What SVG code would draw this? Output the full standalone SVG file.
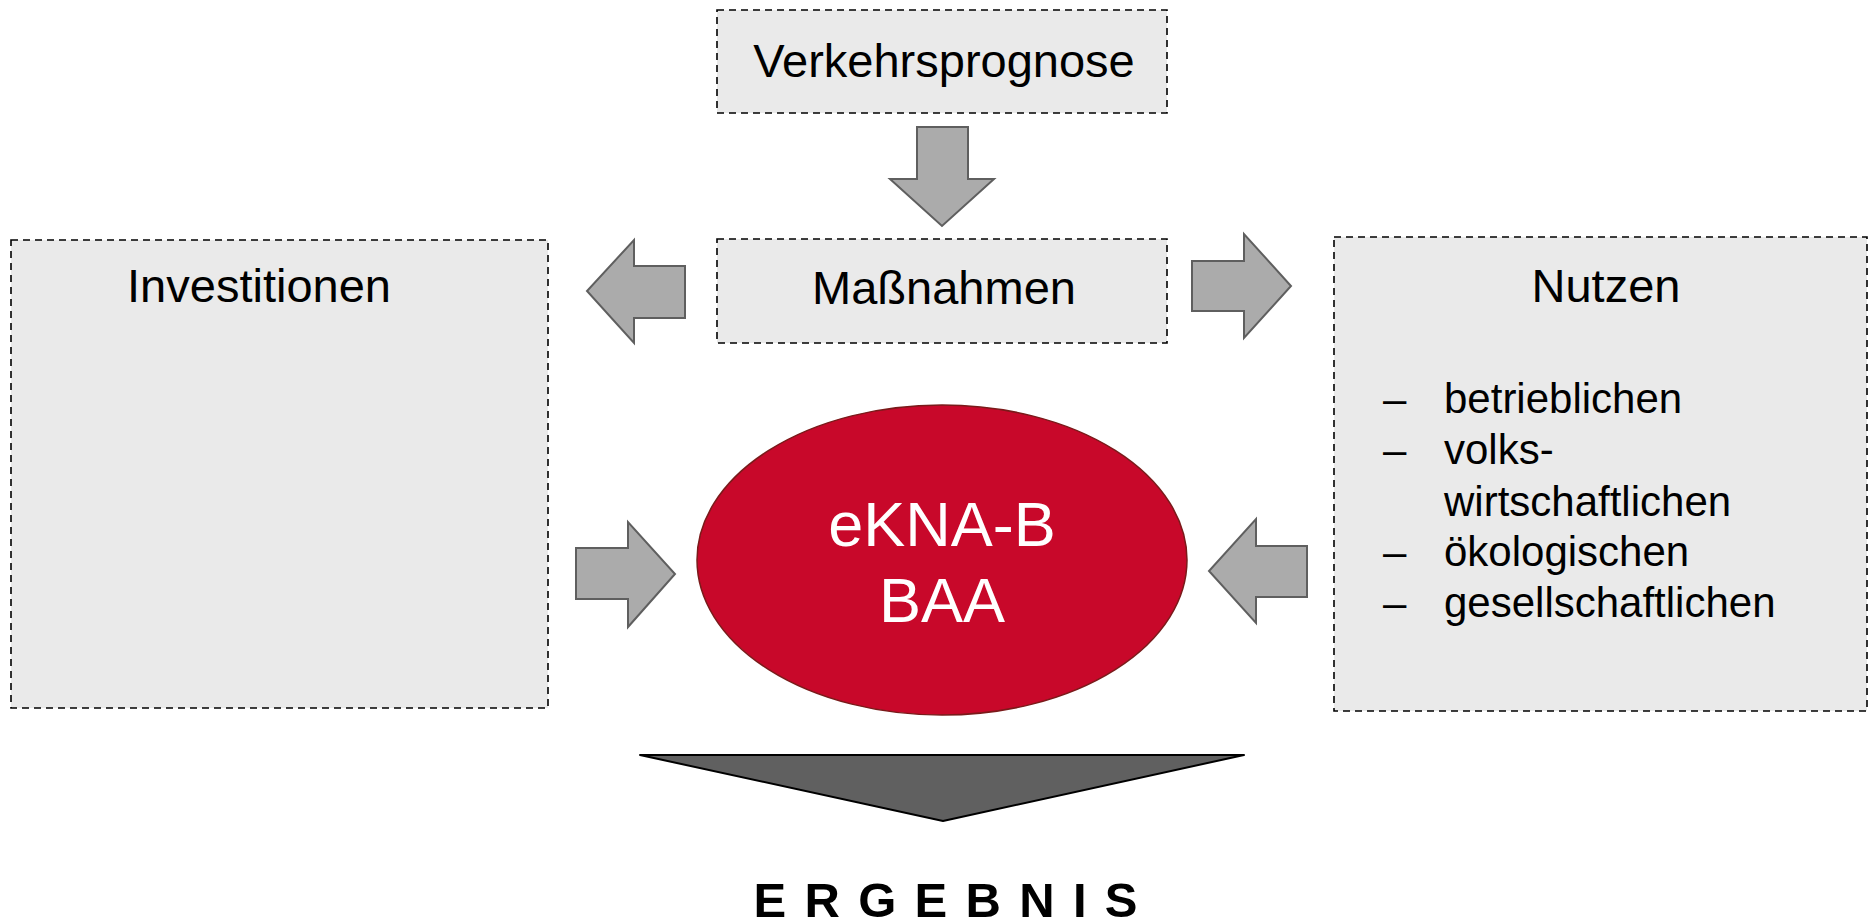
<svg xmlns="http://www.w3.org/2000/svg" width="1873" height="923" viewBox="0 0 1873 923">
<style>
.box{fill:#EAEAEA;stroke:#000;stroke-width:1.6;stroke-dasharray:7,5}
.arr{fill:#ABABAB;stroke:#5F5F5F;stroke-width:2;stroke-linejoin:miter}
.t{font-family:"Liberation Sans",Arial,sans-serif;fill:#000}
.h{font-size:47px}
.b{font-size:42px}
</style>
<rect width="1873" height="923" fill="#fff"/>
<g id="verkehrsprognose">
<rect class="box" x="717" y="10" width="450" height="103"/>
<text class="t h" x="944" y="77" text-anchor="middle">Verkehrsprognose</text>
</g>
<g id="massnahmen">
<rect class="box" x="717" y="239" width="450" height="104"/>
<text class="t h" x="944" y="304" text-anchor="middle">Maßnahmen</text>
</g>
<g id="investitionen">
<rect class="box" x="11" y="240" width="537" height="468"/>
<text class="t h" x="259" y="302" text-anchor="middle">Investitionen</text>
</g>
<g id="nutzen">
<rect class="box" x="1334" y="237" width="533" height="474"/>
<text class="t h" x="1606" y="302" text-anchor="middle">Nutzen</text>
<g class="t b">
<text x="1383" y="413">–</text><text x="1444" y="413">betrieblichen</text>
<text x="1383" y="464">–</text><text x="1444" y="464">volks-</text>
<text x="1444" y="516">wirtschaftlichen</text>
<text x="1383" y="566">–</text><text x="1444" y="566">ökologischen</text>
<text x="1383" y="617">–</text><text x="1444" y="617">gesellschaftlichen</text>
</g>
</g>
<g id="ekna">
<ellipse cx="942" cy="560" rx="245" ry="155" fill="#C8082A" stroke="#7A1A1A" stroke-width="1.5"/>
<text class="t" x="942" y="546" font-size="63" style="fill:#fff" text-anchor="middle">eKNA-B</text>
<text class="t" x="942" y="622" font-size="63" style="fill:#fff" text-anchor="middle">BAA</text>
</g>
<g id="ergebnis">
<text class="t" x="753.5" y="917" font-size="49" font-weight="bold" letter-spacing="18.3">ERGEBNIS</text>
</g>
<g id="connectors">
<polygon class="arr" points="917,127 968,127 968,179 994,179 942,226 890,179 917,179"/>
<polygon class="arr" points="685,266 634,266 634,240 587,291 634,343 634,318 685,318"/>
<polygon class="arr" points="1192,261 1244,261 1244,234 1291,286 1244,338 1244,311 1192,311"/>
<polygon class="arr" points="576,548 628,548 628,522 675,574 628,627 628,599 576,599"/>
<polygon class="arr" points="1307,546 1256,546 1256,519 1209,571 1256,623 1256,597 1307,597"/>
<polygon points="640,755 1244,755 943,821" fill="#606060" stroke="#000" stroke-width="2" stroke-linejoin="round"/>
</g>
</svg>
